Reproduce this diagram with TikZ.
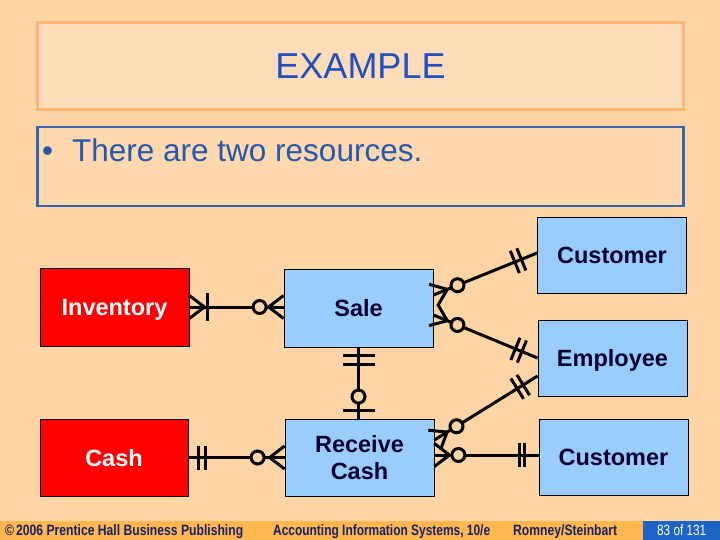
\documentclass[tikz,border=0pt]{standalone}
\usepackage{fontspec}
\setmainfont{Liberation Sans}
\usepackage{graphicx}
\usetikzlibrary{calc}
\definecolor{bg}{HTML}{FFD5A6}
\definecolor{titlefill}{HTML}{FFDDB9}
\definecolor{titleborder}{HTML}{FCB572}
\definecolor{bulborder}{HTML}{3466B4}
\definecolor{titleblue}{HTML}{1F4FC0}
\definecolor{bulblue}{HTML}{2457B0}
\definecolor{entblue}{HTML}{99CCFF}
\definecolor{entred}{HTML}{FF0000}
\definecolor{enttext}{HTML}{00002E}
\definecolor{footorange}{HTML}{FFB74E}
\definecolor{footblue}{HTML}{1E63C6}
\definecolor{foottext}{HTML}{14206E}
\newcommand\crowfoot[2]{%
  \draw[erl] ($(#1)!15pt!(#2)$) -- ($(#1)!11.5pt!90:(#2)$);
  \draw[erl] ($(#1)!15pt!(#2)$) -- ($(#1)!11.5pt!-90:(#2)$);}
\newcommand\erbar[4]{%
  \coordinate (tmpbar) at ($(#1)!#3!(#2)$);
  \draw[erl] ($(tmpbar)!#4!90:(#2)$) -- ($(tmpbar)!#4!-90:(#2)$);}
\newcommand\ercirc[3]{%
  \coordinate (tmpcirc) at ($(#1)!#3!(#2)$);
  \draw[erl, fill=bg] (tmpcirc) circle (6.5pt);}
\begin{document}
\begin{tikzpicture}[x=1pt,y=-1pt,
  erl/.style={line width=3pt, draw=black},
  ent/.style={draw=black, line width=0.8pt, fill=entblue, minimum width=149pt,
    minimum height=77pt, inner sep=0pt, text=enttext,
    font=\fontsize{23.5}{27}\selectfont\bfseries},
  redent/.style={ent, fill=entred, text=white},
  oneline/.style={text height=17pt, text depth=0pt},
  foot/.style={inner sep=0pt, text=foottext, font=\fontsize{15}{16}\selectfont\bfseries}]
\fill[bg] (0,0) rectangle (720,540);
\useasboundingbox (0,0) rectangle (720,540);
% title
\node[draw=titleborder, line width=3pt, fill=titlefill, minimum width=646pt,
  minimum height=87pt, inner sep=0pt, text=titleblue,
  font=\fontsize{36}{40}\selectfont] (title) at (360.5,66) {EXAMPLE};
% bullet box
\node[draw=bulborder, line width=2.5pt, fill=titlefill!40!bg, minimum width=646pt,
  minimum height=79pt, inner sep=0pt] (bulbox) at (360.5,166.5) {};
\node[anchor=base west, inner sep=0pt, text=bulblue, font=\fontsize{31.5}{35}\selectfont]
  (bultext) at (42,162) {\makebox[30pt][l]{\textbullet}There are two resources.};
% entities
\node[ent, oneline, minimum height=76pt] (cust1) at (612,255) {Customer};
\node[redent, oneline, minimum height=78pt] (inv) at (114.5,307) {Inventory};
\node[ent, oneline, minimum height=78pt] (sale) at (358.5,308) {Sale};
\node[ent, oneline, minimum height=76pt] (emp) at (612.5,358) {Employee};
\node[redent, oneline, minimum width=148pt] (cash) at (114,457.5) {Cash};
\node[ent, align=center] (rc) at (359.5,457.5) {Receive\\Cash};
\node[ent, oneline, minimum height=76pt] (cust2) at (613.5,457) {Customer};
% connection points
\coordinate (ia) at (inv.east);
\coordinate (sa) at (sale.west |- inv.east);
\coordinate (s1) at ($(sale.east)+(0,-13)$);
\coordinate (c1) at ($(cust1.west)+(0,-2)$);
\coordinate (s2) at ($(sale.east)+(0,7)$);
\coordinate (e1) at (emp.west);
\coordinate (sb) at (sale.south);
\coordinate (rt) at (sale.south |- rc.north);
\coordinate (ca) at (cash.east);
\coordinate (ra) at (rc.west |- cash.east);
\coordinate (r1) at ($(rc.east)+(0,-17.5)$);
\coordinate (e2) at ($(emp.west)+(0,18)$);
\coordinate (r2) at ($(rc.east)+(0,-2.5)$);
\coordinate (c2) at (cust2.west |- r2);
% Inventory - Sale
\draw[erl] (ia) -- (sa);
\crowfoot{ia}{sa}
\erbar{ia}{sa}{18pt}{14pt}
\crowfoot{sa}{ia}
\ercirc{sa}{ia}{24pt}
% Sale - Customer
\draw[erl] (s1) -- (c1);
\crowfoot{s1}{c1}
\ercirc{s1}{c1}{26pt}
\erbar{c1}{s1}{17pt}{12pt}
\erbar{c1}{s1}{24pt}{12pt}
% Sale - Employee
\draw[erl] (s2) -- (e1);
\crowfoot{s2}{e1}
\ercirc{s2}{e1}{26pt}
\erbar{e1}{s2}{17pt}{12pt}
\erbar{e1}{s2}{24pt}{12pt}
% Sale - Receive Cash
\draw[erl] (sb) -- (rt);
\erbar{sb}{rt}{8pt}{16pt}
\erbar{sb}{rt}{17pt}{16pt}
\ercirc{rt}{sb}{22pt}
\erbar{rt}{sb}{8pt}{16pt}
% Cash - Receive Cash
\draw[erl] (ca) -- (ra);
\erbar{ca}{ra}{10pt}{12pt}
\erbar{ca}{ra}{17pt}{12pt}
\crowfoot{ra}{ca}
\ercirc{ra}{ca}{27pt}
% Receive Cash - Employee
\draw[erl] (r1) -- (e2);
\crowfoot{r1}{e2}
\ercirc{r1}{e2}{26pt}
\erbar{e2}{r1}{17pt}{12pt}
\erbar{e2}{r1}{24pt}{12pt}
% Receive Cash - Customer
\draw[erl] (r2) -- (c2);
\crowfoot{r2}{c2}
\ercirc{r2}{c2}{24pt}
\erbar{c2}{r2}{14pt}{12pt}
\erbar{c2}{r2}{19pt}{12pt}
% footer
\fill[footorange] (0,521) rectangle (720,540);
\fill[footblue] (643,521) rectangle (720,540);
\node[foot, anchor=base west] (f1) at (5,535.5) {\resizebox{238pt}{\height}{\textcopyright\,2006 Prentice Hall Business Publishing}};
\node[foot, anchor=base west] (f2) at (273,535.5) {\resizebox{217pt}{\height}{Accounting Information Systems, 10/e}};
\node[foot, anchor=base west] (f3) at (513,535.5) {\resizebox{104pt}{\height}{Romney/Steinbart}};
\node[foot, anchor=base west, text=white, font=\fontsize{15}{16}\selectfont] (f4) at (657,535.5) {\resizebox{49pt}{\height}{83 of 131}};
\end{tikzpicture}
\end{document}
